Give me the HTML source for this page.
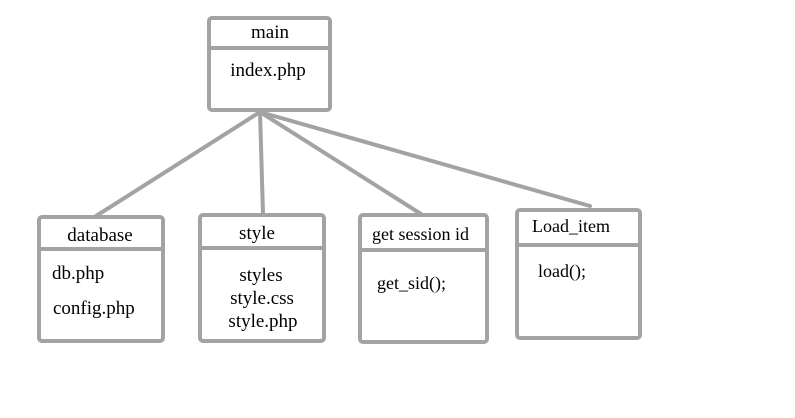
<!DOCTYPE html>
<html><head><style>
body{margin:0;background:#fff;}
svg text{font-family:"Liberation Serif",serif;font-size:19px;fill:#000;}
</style></head><body>
<svg width="795" height="413" xmlns="http://www.w3.org/2000/svg">
<g stroke="#a3a3a3" stroke-width="4" fill="none" stroke-linecap="round">
<line x1="260" y1="112" x2="96" y2="216"/>
<line x1="260" y1="112" x2="263" y2="214"/>
<line x1="260" y1="112" x2="421" y2="214"/>
<line x1="260" y1="112" x2="590" y2="206"/>
<rect x="209" y="18" width="121" height="92" rx="3" fill="#fff"/>
<line x1="209" y1="48" x2="330" y2="48"/>
<rect x="39" y="217" width="124" height="124" rx="3" fill="#fff"/>
<line x1="39" y1="249" x2="163" y2="249"/>
<rect x="200" y="215" width="124" height="126" rx="3" fill="#fff"/>
<line x1="200" y1="248" x2="324" y2="248"/>
<rect x="360" y="215" width="127" height="127" rx="3" fill="#fff"/>
<line x1="360" y1="250" x2="487" y2="250"/>
<rect x="517" y="210" width="123" height="128" rx="3" fill="#fff"/>
<line x1="517" y1="245" x2="640" y2="245"/>
</g>
<text x="270" y="38" text-anchor="middle">main</text>
<text x="268" y="76" text-anchor="middle">index.php</text>
<text x="100" y="241" text-anchor="middle">database</text>
<text x="52" y="279">db.php</text>
<text x="53" y="314">config.php</text>
<text x="257" y="239" text-anchor="middle">style</text>
<text x="261" y="281" text-anchor="middle">styles</text>
<text x="262" y="304" text-anchor="middle">style.css</text>
<text x="263" y="327" text-anchor="middle">style.php</text>
<text x="372" y="240" style="font-size:18px">get session id</text>
<text x="377" y="289" style="font-size:18px">get_sid();</text>
<text x="532" y="232" style="font-size:18px">Load_item</text>
<text x="538" y="277" style="font-size:18px">load();</text>
</svg>
</body></html>
